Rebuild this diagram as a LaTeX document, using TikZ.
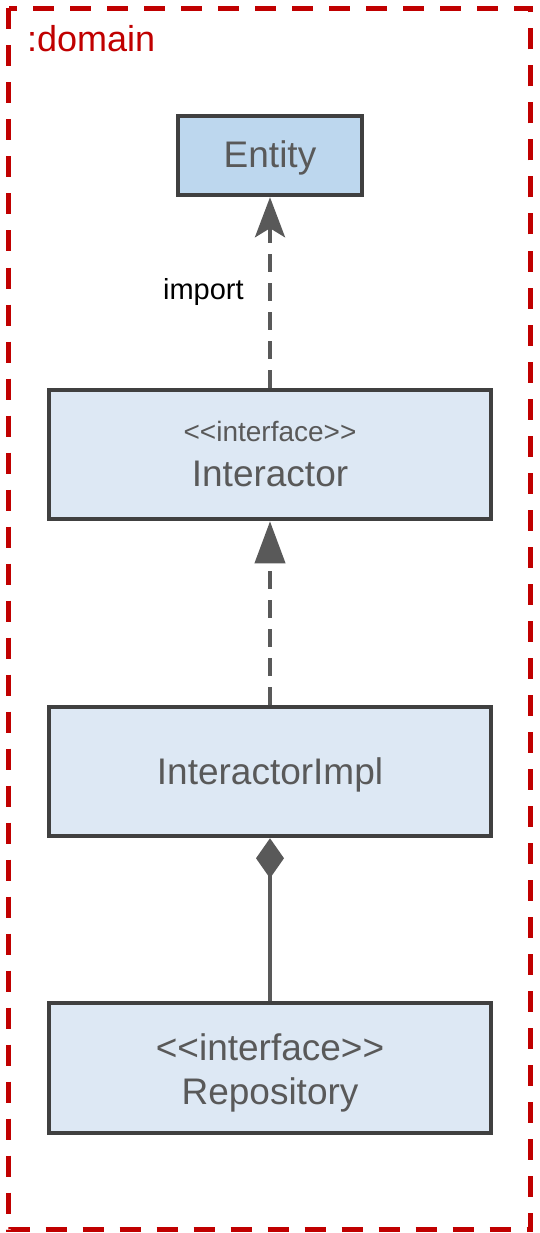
\documentclass[tikz,border=0pt]{standalone}
\usepackage{fontspec}
\setmainfont{Liberation Sans}
\usetikzlibrary{arrows.meta,positioning}
\definecolor{frameclr}{HTML}{C00000}
\definecolor{boxclr}{HTML}{404040}
\definecolor{inkclr}{HTML}{595959}
\definecolor{entityfill}{HTML}{BDD7EE}
\definecolor{classfill}{HTML}{DDE8F4}

\begin{document}
\begin{tikzpicture}[x=1pt, y=-1pt,
  umlbox/.style={draw=boxclr, line width=4.5pt, fill=classfill, text=inkclr,
    align=center, inner sep=0pt, minimum width=442pt, minimum height=129pt,
    font=\fontsize{37}{42}\selectfont},
  link/.style={draw=inkclr, line width=4pt}]

\useasboundingbox (0,0) rectangle (539,1233);

% --- the package frame ------------------------------------------------------
\draw[frameclr, line width=5pt, dash pattern=on 21pt off 16pt]
  (8.5,8.5) rectangle (530.5,1229.5);
\node[anchor=base west, inner sep=0pt, text=frameclr,
      font=\fontsize{36}{40}\selectfont] (domainlbl) at (27,52) {:domain};

% --- classes ----------------------------------------------------------------
\node[umlbox, fill=entityfill, minimum width=184pt, minimum height=79pt,
      text height=30pt, text depth=6.6pt]
  (entity) at (270,155.5) {Entity};
\node[umlbox] (interactor) at (270,454.5)
  {{\fontsize{28}{30}\selectfont <{}<interface>{}>}\\[3pt] Interactor};
\node[umlbox, text height=30pt, text depth=4.6pt]
  (impl) at (270,771.5) {InteractorImpl};
\node[umlbox, minimum height=130pt, text height=73pt, text depth=0pt]
  (repo) at (270,1068) {<{}<interface>{}>\\[2pt] Repository};

% --- relations ----------------------------------------------------------------
\draw[link, dash pattern=on 18pt off 11pt,
      -{Stealth[length=40pt, width=30pt, inset=9pt]}]
  (interactor.north) -- (entity.south)
  node[midway, left=21pt, text=black, font=\fontsize{29}{32}\selectfont]
  (importlbl) {import};
\draw[link, dash pattern=on 18pt off 11pt,
      -{Triangle[length=42pt, width=30pt]}]
  (impl.north) -- (interactor.south);
\draw[link, {Diamond[length=40pt, width=28pt]}-]
  (impl.south) -- (repo.north);

\end{tikzpicture}
\end{document}
